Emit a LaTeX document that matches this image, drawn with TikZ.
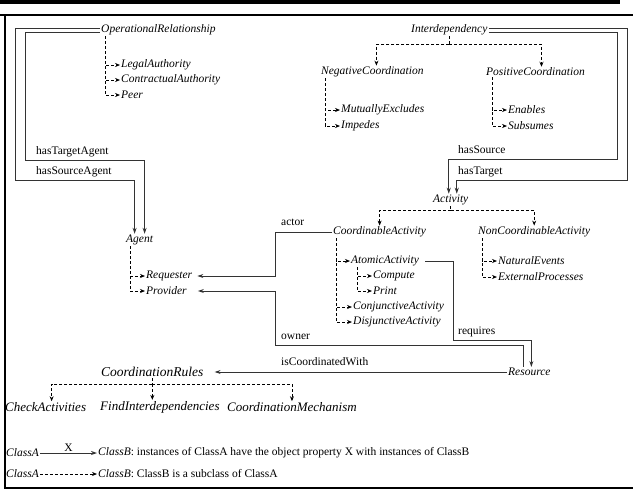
\documentclass[tikz,border=0pt]{standalone}
\usepackage{fontspec}
\setmainfont{Liberation Serif}
\usetikzlibrary{arrows.meta}
\newcommand{\dfont}{\fontsize{11.5}{13}\selectfont}
\newcommand{\bfontsz}{\fontsize{13}{15}\selectfont}
\tikzset{
  cls/.style={font=\dfont\itshape, anchor=west, inner sep=1pt},
  bigcls/.style={font=\bfontsz\itshape, anchor=west, inner sep=1pt},
  lbl/.style={font=\dfont, anchor=west, inner sep=1pt},
  rel/.style={-{Stealth[length=6pt,width=4pt]}, line width=0.9pt, draw=black!80},
  sub/.style={-{Stealth[length=5pt,width=4pt]}, dash pattern=on 3pt off 2pt, line width=0.7pt},
  subline/.style={dash pattern=on 3pt off 2pt, line width=0.7pt}
}

\begin{document}
\begin{tikzpicture}[x=1pt, y=-1pt]
  \useasboundingbox (0,0) rectangle (633,491);
  % page rules and frame
  \fill (0,0) rectangle (620,4);
  \draw[line width=2pt] (0,15) -- (633,15);
  \draw[line width=1.6pt] (5,15) -- (5,488) -- (633,488);

  % classes
  \node[cls] (oprel) at (100,30) {OperationalRelationship};
  \node[cls] (legal) at (120,65) {LegalAuthority};
  \node[cls] (contr) at (120,80) {ContractualAuthority};
  \node[cls] (peer) at (120,95) {Peer};
  \node[cls] (interdep) at (410,30) {Interdependency};
  \node[cls] (negc) at (320,72) {NegativeCoordination};
  \node[cls] (posc) at (485,72) {PositiveCoordination};
  \node[cls] (mutex) at (340,110) {MutuallyExcludes};
  \node[cls] (imped) at (340,126) {Impedes};
  \node[cls] (enab) at (507,110) {Enables};
  \node[cls] (subs) at (507,126) {Subsumes};
  \node[cls] (act) at (432,200) {Activity};
  \node[cls] (coact) at (332,232) {CoordinableActivity};
  \node[cls] (ncact) at (477,232) {NonCoordinableActivity};
  \node[cls] (atomic) at (350,261) {AtomicActivity};
  \node[cls] (compute) at (372,276) {Compute};
  \node[cls] (print) at (372,291) {Print};
  \node[cls] (conj) at (352,307) {ConjunctiveActivity};
  \node[cls] (disj) at (352,322) {DisjunctiveActivity};
  \node[cls] (natev) at (497,261) {NaturalEvents};
  \node[cls] (extproc) at (497,277) {ExternalProcesses};
  \node[cls] (agent) at (125,240) {Agent};
  \node[cls] (req) at (145,276) {Requester};
  \node[cls] (prov) at (145,291) {Provider};
  \node[cls] (resource) at (507,372) {Resource};
  \node[bigcls, font=\fontsize{13.5}{15}\selectfont\itshape] (corules) at (100,372) {CoordinationRules};
  \node[bigcls] (check) at (4,407) {CheckActivities};
  \node[bigcls] (findi) at (99,407) {FindInterdependencies};
  \node[bigcls] (comech) at (226,407) {CoordinationMechanism};

  % property labels
  \node[lbl] (lTA) at (35,152) {hasTargetAgent};
  \node[lbl] (lSA) at (35,172) {hasSourceAgent};
  \node[lbl] (lS) at (457,150) {hasSource};
  \node[lbl] (lT) at (457,172) {hasTarget};
  \node[lbl] (lactor) at (280,222) {actor};
  \node[lbl] (lowner) at (280,337) {owner};
  \node[lbl] (lreq) at (457,332) {requires};
  \node[lbl] (lcw) at (280,362) {isCoordinatedWith};

  % object properties
  \draw[rel] ([yshift=2pt]oprel.west) -| (15,180) -| ([xshift=-5pt]agent.north);
  \draw[rel] ([yshift=-2pt]oprel.west) -| (25,160) -| ([xshift=5pt]agent.north);
  \draw[rel] ([yshift=2pt]interdep.east) -| (627,180) -| ([xshift=6pt]act.north);
  \draw[rel] ([yshift=-2pt]interdep.east) -| (617,159) -| ([xshift=-2pt]act.north);
  \draw[rel] (coact.west) -| (275,276) -- ([xshift=4pt]req.east);
  \draw[rel] ([xshift=-6pt]resource.north) |- (275,345) |- ([xshift=10pt]prov.east);
  \draw[rel] ([xshift=5pt]atomic.east) -| (453,340) -| ([xshift=2pt]resource.north);
  \draw[rel] (resource.west) -- ([xshift=10pt]corules.east);

  % subclasses
  \coordinate (tOR) at ([xshift=5pt]oprel.south west);
  \foreach \c in {legal,contr,peer}
    \draw[sub] (tOR) |- (\c.west);
  \draw[subline] (interdep.south) -- ++(0,8) coordinate (jI);
  \draw[sub] (jI) -| ([xshift=4pt]negc.north);
  \draw[sub] (jI) -| ([xshift=6pt]posc.north);
  \coordinate (tNC) at ([xshift=5pt]negc.south west);
  \foreach \c in {mutex,imped}
    \draw[sub] (tNC) |- (\c.west);
  \coordinate (tPC) at ([xshift=7pt]posc.south west);
  \foreach \c in {enab,subs}
    \draw[sub] (tPC) |- (\c.west);
  \draw[subline] (act.south) -- ++(0,4) coordinate (jA);
  \draw[sub] (jA) -| (coact.north);
  \draw[sub] (jA) -| (ncact.north);
  \coordinate (tCA) at ([xshift=4pt]coact.south west);
  \foreach \c in {atomic,conj,disj}
    \draw[sub] (tCA) |- (\c.west);
  \coordinate (tAA) at ([xshift=7pt]atomic.south west);
  \foreach \c in {compute,print}
    \draw[sub] (tAA) |- (\c.west);
  \coordinate (tNA) at ([xshift=5pt]ncact.south west);
  \foreach \c in {natev,extproc}
    \draw[sub] (tNA) |- (\c.west);
  \coordinate (tAg) at ([xshift=5pt]agent.south west);
  \foreach \c in {req,prov}
    \draw[sub] (tAg) |- (\c.west);
  \draw[subline] (corules.south) -- ++(0,6) coordinate (jR);
  \draw[sub] (jR) -| ([xshift=6pt]check.north);
  \draw[sub] (jR) -- (jR |- findi.north);
  \draw[sub] (jR) -| (comech.north);

  % legend
  \node[cls] (lgA1) at (5,453) {ClassA};
  \node[lbl] (lgB1) at (97,453) {\textit{ClassB}: instances of ClassA have the object property X with instances of ClassB};
  \draw[rel] (lgA1.east) -- node[lbl, anchor=south] {X} (lgB1.west);
  \node[cls] (lgA2) at (5,474) {ClassA};
  \node[lbl] (lgB2) at (97,474) {\textit{ClassB}: ClassB is a subclass of ClassA};
  \draw[sub] (lgA2.east) -- (lgB2.west);
\end{tikzpicture}
\end{document}
